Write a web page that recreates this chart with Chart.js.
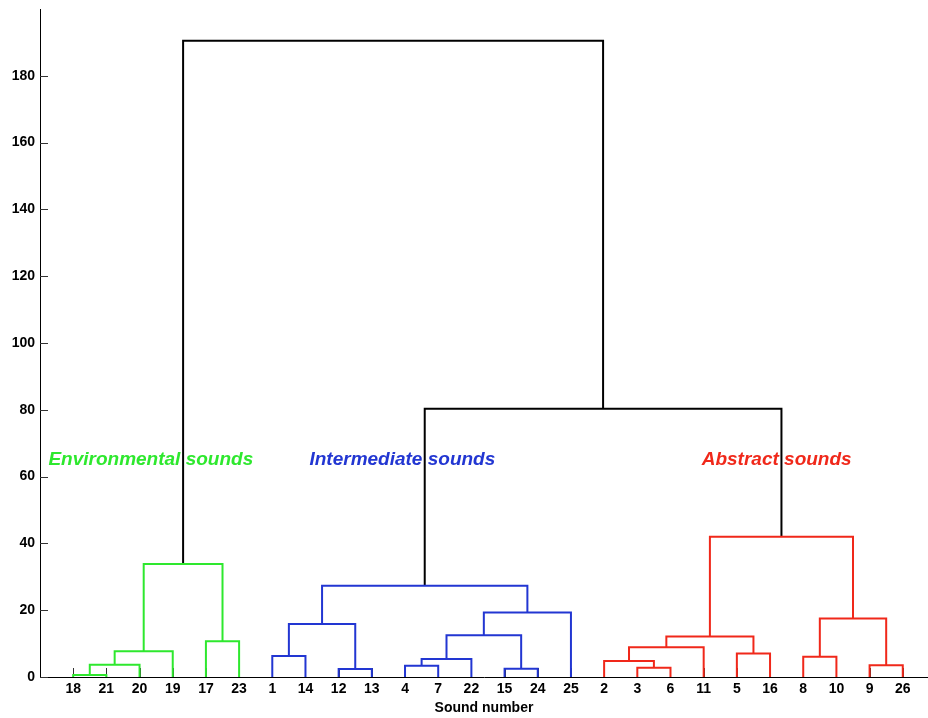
<!DOCTYPE html>
<html>
<head>
<meta charset="utf-8">
<script src="https://cdn.jsdelivr.net/npm/chart.js@4.4.1/dist/chart.umd.min.js"></script>
<style>
  html, body { margin: 0; padding: 0; background: #fff; }
  #wrap { width: 928px; height: 718px; position: relative; }
</style>
</head>
<body>
<div id="wrap"><canvas id="dendro"></canvas></div>
<script>
// leaf order along the x axis (sound numbers)
const leafLabels = [18, 21, 20, 19, 17, 23, 1, 14, 12, 13, 4, 7, 22, 15, 24, 25, 2, 3, 6, 11, 5, 16, 8, 10, 9, 26];

// linkage, MATLAB style: ids 1..26 are sounds, 27+k is the cluster made by link k
const linkLeft   = [18, 27, 28, 17, 29,   1, 12, 32,  4, 35, 15, 36, 38, 34,   3,  2, 42,  5, 43,  8,  9, 46, 45,  40, 31];
const linkRight  = [21, 20, 19, 23, 30,  14, 13, 33,  7, 22, 24, 37, 25, 39,   6, 41, 11, 16, 44, 10, 26, 47, 48,  49, 50];
const linkHeight = [0.6, 3.7, 7.7, 10.7, 33.8,  6.3, 2.4, 15.9, 3.4, 5.4, 2.5, 12.5, 19.3, 27.3,
                    2.8, 4.8, 8.9, 7.0, 12.1, 6.1, 3.5, 17.5, 42.0,  80.3, 190.5];
const linkGroup  = ['env', 'env', 'env', 'env', 'env',
                    'int', 'int', 'int', 'int', 'int', 'int', 'int', 'int', 'int',
                    'abs', 'abs', 'abs', 'abs', 'abs', 'abs', 'abs', 'abs', 'abs',
                    'top', 'top'];

const groupNames = ['Environmental sounds', 'Intermediate sounds', 'Abstract sounds'];
const groupKeys = ['env', 'int', 'abs'];

const yTicks = [0, 20, 40, 60, 80, 100, 120, 140, 160, 180];

const colors = { env: '#2ee82e', int: '#2236d2', abs: '#f0281a', top: '#000000' };

const FONT = "'Liberation Sans', Arial, Helvetica, sans-serif";

// node positions
const nodeX = {};
const nodeH = {};
leafLabels.forEach((s, i) => { nodeX[s] = i + 1; nodeH[s] = 0; });
linkLeft.forEach((l, k) => {
  const id = 27 + k;
  nodeX[id] = (nodeX[l] + nodeX[linkRight[k]]) / 2;
  nodeH[id] = linkHeight[k];
});

const datasets = linkLeft.map((l, k) => {
  const r = linkRight[k];
  const h = linkHeight[k];
  return {
    data: [
      { x: nodeX[l], y: nodeH[l] },
      { x: nodeX[l], y: h },
      { x: nodeX[r], y: h },
      { x: nodeX[r], y: nodeH[r] },
    ],
    showLine: true,
    borderColor: colors[linkGroup[k]],
    borderWidth: 2,
    pointRadius: 0,
    fill: false,
    tension: 0,
  };
});

// inward tick marks like the original figure
const innerTicks = {
  id: 'innerTicks',
  beforeDatasetsDraw(chart) {
    const { ctx, scales: { x, y } } = chart;
    ctx.save();
    ctx.strokeStyle = '#333';
    ctx.lineWidth = 1;
    ctx.beginPath();
    yTicks.forEach((v) => {
      const py = Math.round(y.getPixelForValue(v)) + 0.5;
      ctx.moveTo(x.left, py);
      ctx.lineTo(x.left + 8, py);
    });
    leafLabels.forEach((_, i) => {
      const px = Math.round(x.getPixelForValue(i + 1)) + 0.5;
      ctx.moveTo(px, y.bottom);
      ctx.lineTo(px, y.bottom - 9);
    });
    ctx.stroke();
    ctx.restore();
  },
};

// group captions
const groupText = {
  id: 'groupText',
  afterDatasetsDraw(chart) {
    const { ctx, scales: { x, y } } = chart;
    const centers = [3.34, 10.92, 22.2];
    ctx.save();
    ctx.font = 'italic bold 19px ' + FONT;
    ctx.textAlign = 'center';
    ctx.textBaseline = 'middle';
    groupNames.forEach((name, i) => {
      ctx.fillStyle = colors[groupKeys[i]];
      ctx.fillText(name, x.getPixelForValue(centers[i]), y.getPixelForValue(65.0));
    });
    ctx.restore();
  },
};

new Chart(document.getElementById('dendro'), {
  type: 'scatter',
  data: { datasets },
  plugins: [innerTicks, groupText],
  options: {
    responsive: true,
    maintainAspectRatio: false,
    animation: false,
    layout: { padding: { top: 9, right: 0, left: 0, bottom: 0 } },
    plugins: {
      legend: { display: false },
      tooltip: { enabled: false },
    },
    scales: {
      x: {
        type: 'linear',
        min: 0,
        max: 26.76,
        afterBuildTicks: (scale) => {
          scale.ticks = leafLabels.map((_, i) => ({ value: i + 1 }));
        },
        afterFit: (scale) => {
          scale.height = 41;
          scale.paddingLeft = 0;
          scale.paddingRight = 0;
        },
        grid: { display: false, drawTicks: false },
        border: { display: true, color: '#000', width: 1 },
        ticks: {
          autoSkip: false,
          maxRotation: 0,
          padding: 4,
          color: '#000',
          font: { family: FONT, size: 14, weight: 'bold' },
          callback: (v, i) => leafLabels[i],
        },
        title: {
          display: true,
          text: 'Sound number',
          color: '#000',
          font: { family: FONT, size: 14, weight: 'bold' },
          padding: { top: 0, bottom: 1 },
        },
      },
      y: {
        min: 0,
        max: 200,
        afterBuildTicks: (scale) => {
          scale.ticks = yTicks.map((v) => ({ value: v }));
        },
        afterFit: (scale) => {
          scale.width = 40;
          scale.paddingTop = 0;
          scale.paddingBottom = 0;
        },
        grid: { display: false, drawTicks: false },
        border: { display: true, color: '#000', width: 1 },
        ticks: {
          padding: 5,
          color: '#000',
          font: { family: FONT, size: 14, weight: 'bold' },
        },
      },
    },
  },
});
</script>
</body>
</html>
